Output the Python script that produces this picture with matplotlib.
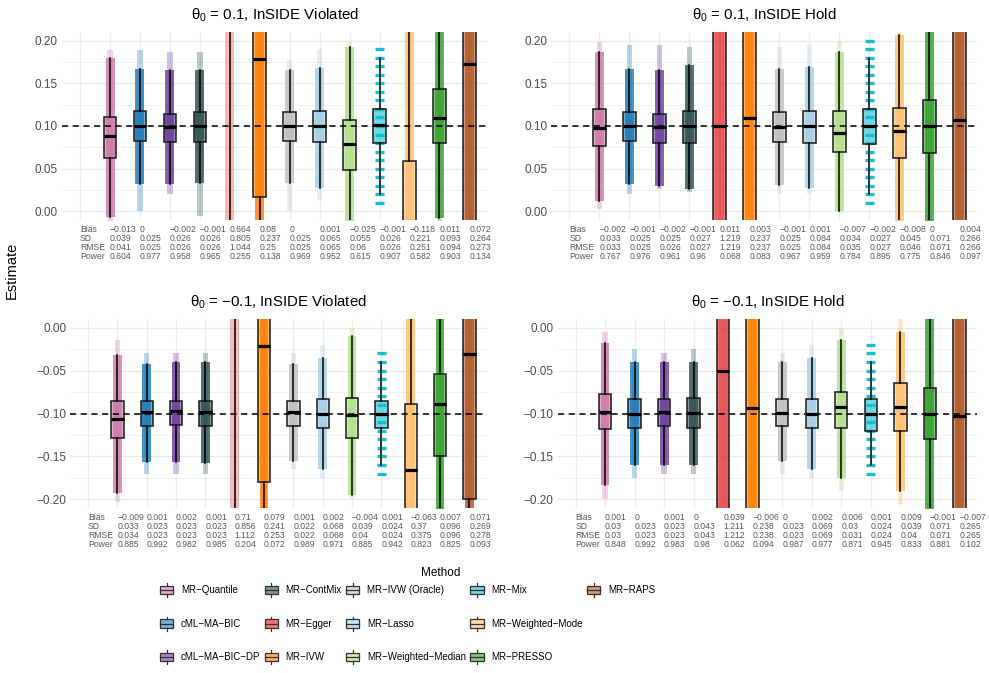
import numpy as np
import matplotlib.pyplot as plt
import matplotlib.colors as mcolors
import matplotlib.transforms as mtransforms
from matplotlib.legend_handler import HandlerBase
from matplotlib.patches import Rectangle, Patch
from matplotlib.lines import Line2D
from matplotlib.ticker import FuncFormatter

plt.rcParams['font.family'] = ['Liberation Sans', 'DejaVu Sans']
plt.rcParams['mathtext.fontset'] = 'custom'
plt.rcParams['mathtext.rm'] = 'Liberation Sans'

# methods and colours
methods = ['MR\u2212Quantile', 'cML\u2212MA\u2212BIC', 'cML\u2212MA\u2212BIC\u2212DP', 'MR\u2212ContMix',
           'MR\u2212Egger', 'MR\u2212IVW', 'MR\u2212IVW (Oracle)', 'MR\u2212Lasso',
           'MR\u2212Weighted\u2212Median', 'MR\u2212Mix', 'MR\u2212Weighted\u2212Mode',
           'MR\u2212PRESSO', 'MR\u2212RAPS']
colors = ['#CC79A7', '#1F78B4', '#6A3D9A', '#2F4F4F', '#E31A1C', '#FF7F00', '#BEBEBE',
          '#A6CEE3', '#B2DF8A', '#17BECF', '#FDBF6F', '#33A02C', '#B15928']

# panel 1: theta0 = 0.1, InSIDE violated (box stats)
p1_wlo = [-0.007, 0.032, 0.032, 0.033, -1.0, -0.3, 0.033, 0.027, -0.03, 0.020, -0.6, -0.008, -0.6]
p1_q1 = [0.063, 0.083, 0.081, 0.081, 0.30, 0.017, 0.082, 0.081, 0.049, 0.080, -0.25, 0.080, -0.03]
p1_med = [0.088, 0.100, 0.099, 0.100, 0.70, 0.178, 0.100, 0.100, 0.079, 0.101, -0.03, 0.109, 0.173]
p1_q3 = [0.110, 0.117, 0.114, 0.116, 1.10, 0.34, 0.116, 0.118, 0.107, 0.120, 0.059, 0.143, 0.44]
p1_whi = [0.180, 0.167, 0.166, 0.166, 2.50, 0.80, 0.165, 0.168, 0.192, 0.180, 0.35, 0.30, 1.2]
p1_plo = [-0.02, 0.0, 0.021, -0.005, -2.0, -0.5, 0.0, 0.013, -0.05, 0.010, -1.0, -0.1, -1.0]
p1_phi = [0.189, 0.189, 0.187, 0.187, 3.0, 1.0, 0.177, 0.190, 0.198, 0.190, 0.6, 0.4, 1.5]
p1_bias = [-0.013, 0, -0.002, -0.001, 0.664, 0.08, 0, 0.001, -0.025, -0.001, -0.118, 0.011, 0.072]
p1_sd = [0.039, 0.025, 0.026, 0.026, 0.805, 0.237, 0.025, 0.065, 0.055, 0.026, 0.221, 0.093, 0.264]
p1_rmse = [0.041, 0.025, 0.026, 0.026, 1.044, 0.25, 0.025, 0.065, 0.06, 0.026, 0.251, 0.094, 0.273]
p1_power = [0.604, 0.977, 0.958, 0.965, 0.255, 0.138, 0.969, 0.952, 0.615, 0.907, 0.582, 0.903, 0.134]

# panel 2: theta0 = 0.1, InSIDE hold
p2_wlo = [0.012, 0.032, 0.030, 0.026, -2.0, -0.4, 0.031, 0.028, 0.0, 0.020, -0.03, -0.03, -0.6]
p2_q1 = [0.077, 0.082, 0.080, 0.080, -0.7, -0.05, 0.081, 0.080, 0.070, 0.079, 0.063, 0.068, -0.08]
p2_med = [0.098, 0.100, 0.099, 0.100, 0.100, 0.109, 0.099, 0.100, 0.092, 0.100, 0.094, 0.100, 0.107]
p2_q3 = [0.120, 0.116, 0.114, 0.117, 0.9, 0.26, 0.116, 0.117, 0.117, 0.120, 0.121, 0.131, 0.28]
p2_whi = [0.187, 0.167, 0.165, 0.171, 2.0, 0.6, 0.167, 0.169, 0.187, 0.180, 0.206, 0.25, 0.8]
p2_plo = [0.003, 0.02, 0.026, 0.023, -3.0, -0.6, 0.02, 0.021, -0.003, 0.01, -0.1, -0.1, -1.0]
p2_phi = [0.198, 0.195, 0.195, 0.193, 3.0, 0.8, 0.193, 0.195, 0.2, 0.2, 0.3, 0.3, 1.0]
p2_bias = [-0.002, -0.001, -0.002, -0.001, 0.011, 0.003, -0.001, 0.001, -0.007, -0.002, -0.008, 0, 0.004]
p2_sd = [0.033, 0.025, 0.025, 0.027, 1.219, 0.237, 0.025, 0.084, 0.034, 0.027, 0.045, 0.071, 0.266]
p2_rmse = [0.033, 0.025, 0.026, 0.027, 1.219, 0.237, 0.025, 0.084, 0.035, 0.027, 0.046, 0.071, 0.266]
p2_power = [0.767, 0.976, 0.961, 0.96, 0.068, 0.083, 0.967, 0.959, 0.784, 0.895, 0.775, 0.846, 0.097]

# panel 3: theta0 = -0.1, InSIDE violated
p3_wlo = [-0.193, -0.156, -0.157, -0.158, -1.5, -0.5, -0.155, -0.165, -0.195, -0.16, -0.6, -0.3, -0.8]
p3_q1 = [-0.129, -0.115, -0.113, -0.115, 0.25, -0.18, -0.115, -0.117, -0.128, -0.117, -0.40, -0.15, -0.2]
p3_med = [-0.106, -0.098, -0.097, -0.098, 0.6, -0.021, -0.098, -0.100, -0.102, -0.100, -0.166, -0.089, -0.031]
p3_q3 = [-0.086, -0.085, -0.085, -0.085, 1.0, 0.14, -0.085, -0.083, -0.082, -0.085, -0.089, -0.054, 0.15]
p3_whi = [-0.032, -0.042, -0.04, -0.04, 2.5, 0.5, -0.042, -0.035, -0.01, -0.04, 0.3, 0.2, 0.6]
p3_plo = [-0.203, -0.17, -0.17, -0.17, -2.0, -0.6, -0.165, -0.175, -0.2, -0.17, -1.0, -0.4, -1.0]
p3_phi = [-0.015, -0.03, -0.03, -0.03, 3.0, 0.6, -0.03, -0.02, 0.0, -0.03, 0.5, 0.3, 1.0]
p3_bias = [-0.009, 0.001, 0.002, 0.001, 0.71, 0.079, 0.001, 0.002, -0.004, 0.001, -0.063, 0.007, 0.071]
p3_sd = [0.033, 0.023, 0.023, 0.023, 0.856, 0.241, 0.022, 0.068, 0.039, 0.024, 0.37, 0.096, 0.269]
p3_rmse = [0.034, 0.023, 0.023, 0.023, 1.112, 0.253, 0.022, 0.068, 0.04, 0.024, 0.375, 0.096, 0.278]
p3_power = [0.885, 0.992, 0.982, 0.985, 0.204, 0.072, 0.989, 0.971, 0.885, 0.942, 0.823, 0.825, 0.093]

# panel 4: theta0 = -0.1, InSIDE hold
p4_wlo = [-0.183, -0.16, -0.16, -0.16, -2.0, -0.5, -0.155, -0.165, -0.175, -0.16, -0.19, -0.3, -0.8]
p4_q1 = [-0.118, -0.117, -0.115, -0.117, -0.8, -0.25, -0.115, -0.117, -0.117, -0.12, -0.12, -0.13, -0.3]
p4_med = [-0.098, -0.100, -0.098, -0.099, -0.05, -0.094, -0.099, -0.100, -0.093, -0.100, -0.092, -0.100, -0.103]
p4_q3 = [-0.077, -0.083, -0.083, -0.082, 0.7, 0.06, -0.083, -0.083, -0.075, -0.083, -0.065, -0.07, 0.08]
p4_whi = [-0.018, -0.04, -0.04, -0.04, 2.0, 0.4, -0.04, -0.035, -0.015, -0.04, -0.005, 0.2, 0.6]
p4_plo = [-0.2, -0.175, -0.17, -0.17, -3.0, -0.6, -0.17, -0.175, -0.19, -0.17, -0.205, -0.4, -1.0]
p4_phi = [-0.005, -0.025, -0.03, -0.025, 3.0, 0.6, -0.03, -0.02, 0.0, -0.02, 0.01, 0.3, 1.0]
p4_bias = [0.001, 0, 0.001, 0, 0.039, -0.006, 0, 0.002, 0.006, 0.001, 0.009, -0.001, -0.007]
p4_sd = [0.03, 0.023, 0.023, 0.043, 1.211, 0.238, 0.023, 0.069, 0.03, 0.024, 0.039, 0.071, 0.265]
p4_rmse = [0.03, 0.023, 0.023, 0.043, 1.212, 0.238, 0.023, 0.069, 0.031, 0.024, 0.04, 0.071, 0.265]
p4_power = [0.848, 0.992, 0.983, 0.98, 0.062, 0.094, 0.987, 0.977, 0.871, 0.945, 0.833, 0.881, 0.102]

MIX_STEP = 0.01   # MR-Mix estimates fall on a grid

W, H = 989, 673
fig = plt.figure(figsize=(W / 100, H / 100), dpi=100)


def add_ax(l, r, t, b):
    return fig.add_axes([l / W, 1 - b / H, (r - l) / W, (b - t) / H])


def fmt(v):
    return f'{v:g}'.replace('-', '\u2212')


def draw_panel(ax, theta, title, wlo, q1, med, q3, whi, plo, phi, bias, sd, rmse, power):
    x = np.arange(1, 14)
    jw = 0.15
    # point clouds, drawn as translucent strips
    for i in range(13):
        c = colors[i]
        if i == 9:
            lv = np.round(np.arange(plo[i], phi[i] + 1e-9, MIX_STEP), 3)
            ax.hlines(lv, x[i] - 0.15, x[i] + 0.15, color=c, lw=2.4, zorder=1)
            continue
        if sd[i] > 0.5:
            ax.fill_betweenx([plo[i], phi[i]], x[i] - jw, x[i] + jw, color=c, alpha=0.3, lw=0)
        else:
            ax.fill_betweenx([plo[i], phi[i]], x[i] - jw * 0.6, x[i] + jw * 0.6, color=c, alpha=0.3, lw=0)
            ax.fill_betweenx([wlo[i], whi[i]], x[i] - jw, x[i] + jw, color=c, alpha=0.8, lw=0)

    stats = [dict(med=med[i], q1=q1[i], q3=q3[i], whislo=wlo[i], whishi=whi[i]) for i in range(13)]
    bp = ax.bxp(stats, positions=x, widths=0.42, patch_artist=True, showfliers=False, showcaps=False,
                boxprops=dict(lw=1.1, edgecolor='#1a1a1a'),
                whiskerprops=dict(lw=1.1, color='black'),
                medianprops=dict(lw=2.3, color='black', solid_capstyle='butt'))
    for patch, c in zip(bp['boxes'], colors):
        patch.set_facecolor(mcolors.to_rgba(c, 0.6))

    ax.axhline(theta, color='black', lw=1.1, ls=(0, (4, 3)), zorder=6)

    if theta > 0:
        ax.set_ylim(-0.01, 0.21)
        ax.set_yticks([0, 0.05, 0.1, 0.15, 0.2])
        ax.set_yticks([0.025, 0.075, 0.125, 0.175], minor=True)
    else:
        ax.set_ylim(-0.21, 0.01)
        ax.set_yticks([-0.2, -0.15, -0.1, -0.05, 0])
        ax.set_yticks([-0.175, -0.125, -0.075, -0.025], minor=True)
    ax.set_xlim(-0.6, 13.6)
    ax.set_xticks(range(14))
    ax.set_xticklabels([])
    ax.yaxis.set_major_formatter(FuncFormatter(lambda v, p: f'{v:.2f}'.replace('-', '\u2212')))
    ax.tick_params(which='both', length=0, labelsize=8.5, labelcolor='#4D4D4D', pad=3)
    ax.grid(which='major', color='#EBEBEB', lw=1.0)
    ax.grid(which='minor', axis='y', color='#EBEBEB', lw=0.5)
    ax.set_axisbelow(True)
    for s in ax.spines.values():
        s.set_visible(False)
    ax.set_title(title, fontsize=10.8, pad=9.5)

    # summary table under the panel
    tr = mtransforms.blended_transform_factory(ax.transData, ax.transAxes)
    rows = [('Bias', bias), ('SD', sd), ('RMSE', rmse), ('Power', power)]
    for k, (name, vals) in enumerate(rows):
        yy = -0.048 * (k + 1)
        ax.text(0, yy, name, transform=tr, ha='left', va='center', fontsize=6.2, color='#595959')
        for i in range(13):
            ax.text(x[i], yy, fmt(vals[i]), transform=tr, ha='left', va='center',
                    fontsize=6.2, color='#595959')


ax1 = add_ax(62.1, 487.3, 32, 220)
ax2 = add_ax(551.3, 977.3, 32, 220)
ax3 = add_ax(70.4, 487, 319, 508)
ax4 = add_ax(557.8, 977.1, 319, 508)

draw_panel(ax1, 0.1, r'θ$_0$ = 0.1, InSIDE Violated',
           p1_wlo, p1_q1, p1_med, p1_q3, p1_whi, p1_plo, p1_phi, p1_bias, p1_sd, p1_rmse, p1_power)
draw_panel(ax2, 0.1, r'θ$_0$ = 0.1, InSIDE Hold',
           p2_wlo, p2_q1, p2_med, p2_q3, p2_whi, p2_plo, p2_phi, p2_bias, p2_sd, p2_rmse, p2_power)
draw_panel(ax3, -0.1, 'θ$_0$ = \u22120.1, InSIDE Violated',
           p3_wlo, p3_q1, p3_med, p3_q3, p3_whi, p3_plo, p3_phi, p3_bias, p3_sd, p3_rmse, p3_power)
draw_panel(ax4, -0.1, 'θ$_0$ = \u22120.1, InSIDE Hold',
           p4_wlo, p4_q1, p4_med, p4_q3, p4_whi, p4_plo, p4_phi, p4_bias, p4_sd, p4_rmse, p4_power)

fig.text(12 / W, 1 - 270 / H, 'Estimate', rotation=90, ha='center', va='center', fontsize=10.5)


# legend keys drawn as small boxplots
class BoxKey(HandlerBase):
    def create_artists(self, legend, orig_handle, xdescent, ydescent, width, height, fontsize, trans):
        c = orig_handle.get_facecolor()
        x0, y0 = -xdescent, -ydescent
        cx = x0 + width / 2
        box = Rectangle((x0, y0 + height * 0.2), width, height * 0.6, facecolor=c,
                        edgecolor='#333333', lw=0.9, transform=trans)
        w1 = Line2D([cx, cx], [y0, y0 + height * 0.2], color='#333333', lw=0.9, transform=trans)
        w2 = Line2D([cx, cx], [y0 + height * 0.8, y0 + height], color='#333333', lw=0.9, transform=trans)
        md = Line2D([x0, x0 + width], [y0 + height / 2] * 2, color='#333333', lw=0.9, transform=trans)
        return [box, w1, w2, md]


handles = [Patch(facecolor=mcolors.to_rgba(c, 0.6)) for c in colors]
labels = list(methods)
# two empty slots so the last column holds only MR-RAPS, as in a by-column ggplot legend
for _ in range(2):
    handles.append(Line2D([], [], lw=0))
    labels.append('')
fig.legend(handles, labels, handler_map={Patch: BoxKey()}, ncol=5, loc='upper left',
           bbox_to_anchor=(160 / W, 1 - 583 / H), frameon=False, fontsize=7.0,
           handlelength=1.35, handleheight=1.85, labelspacing=2.0, columnspacing=0.45,
           handletextpad=0.8, borderpad=0, borderaxespad=0)
fig.text(441 / W, 1 - 573 / H, 'Method', ha='center', va='center', fontsize=8.5)

fig.savefig('out.png', dpi=100)
